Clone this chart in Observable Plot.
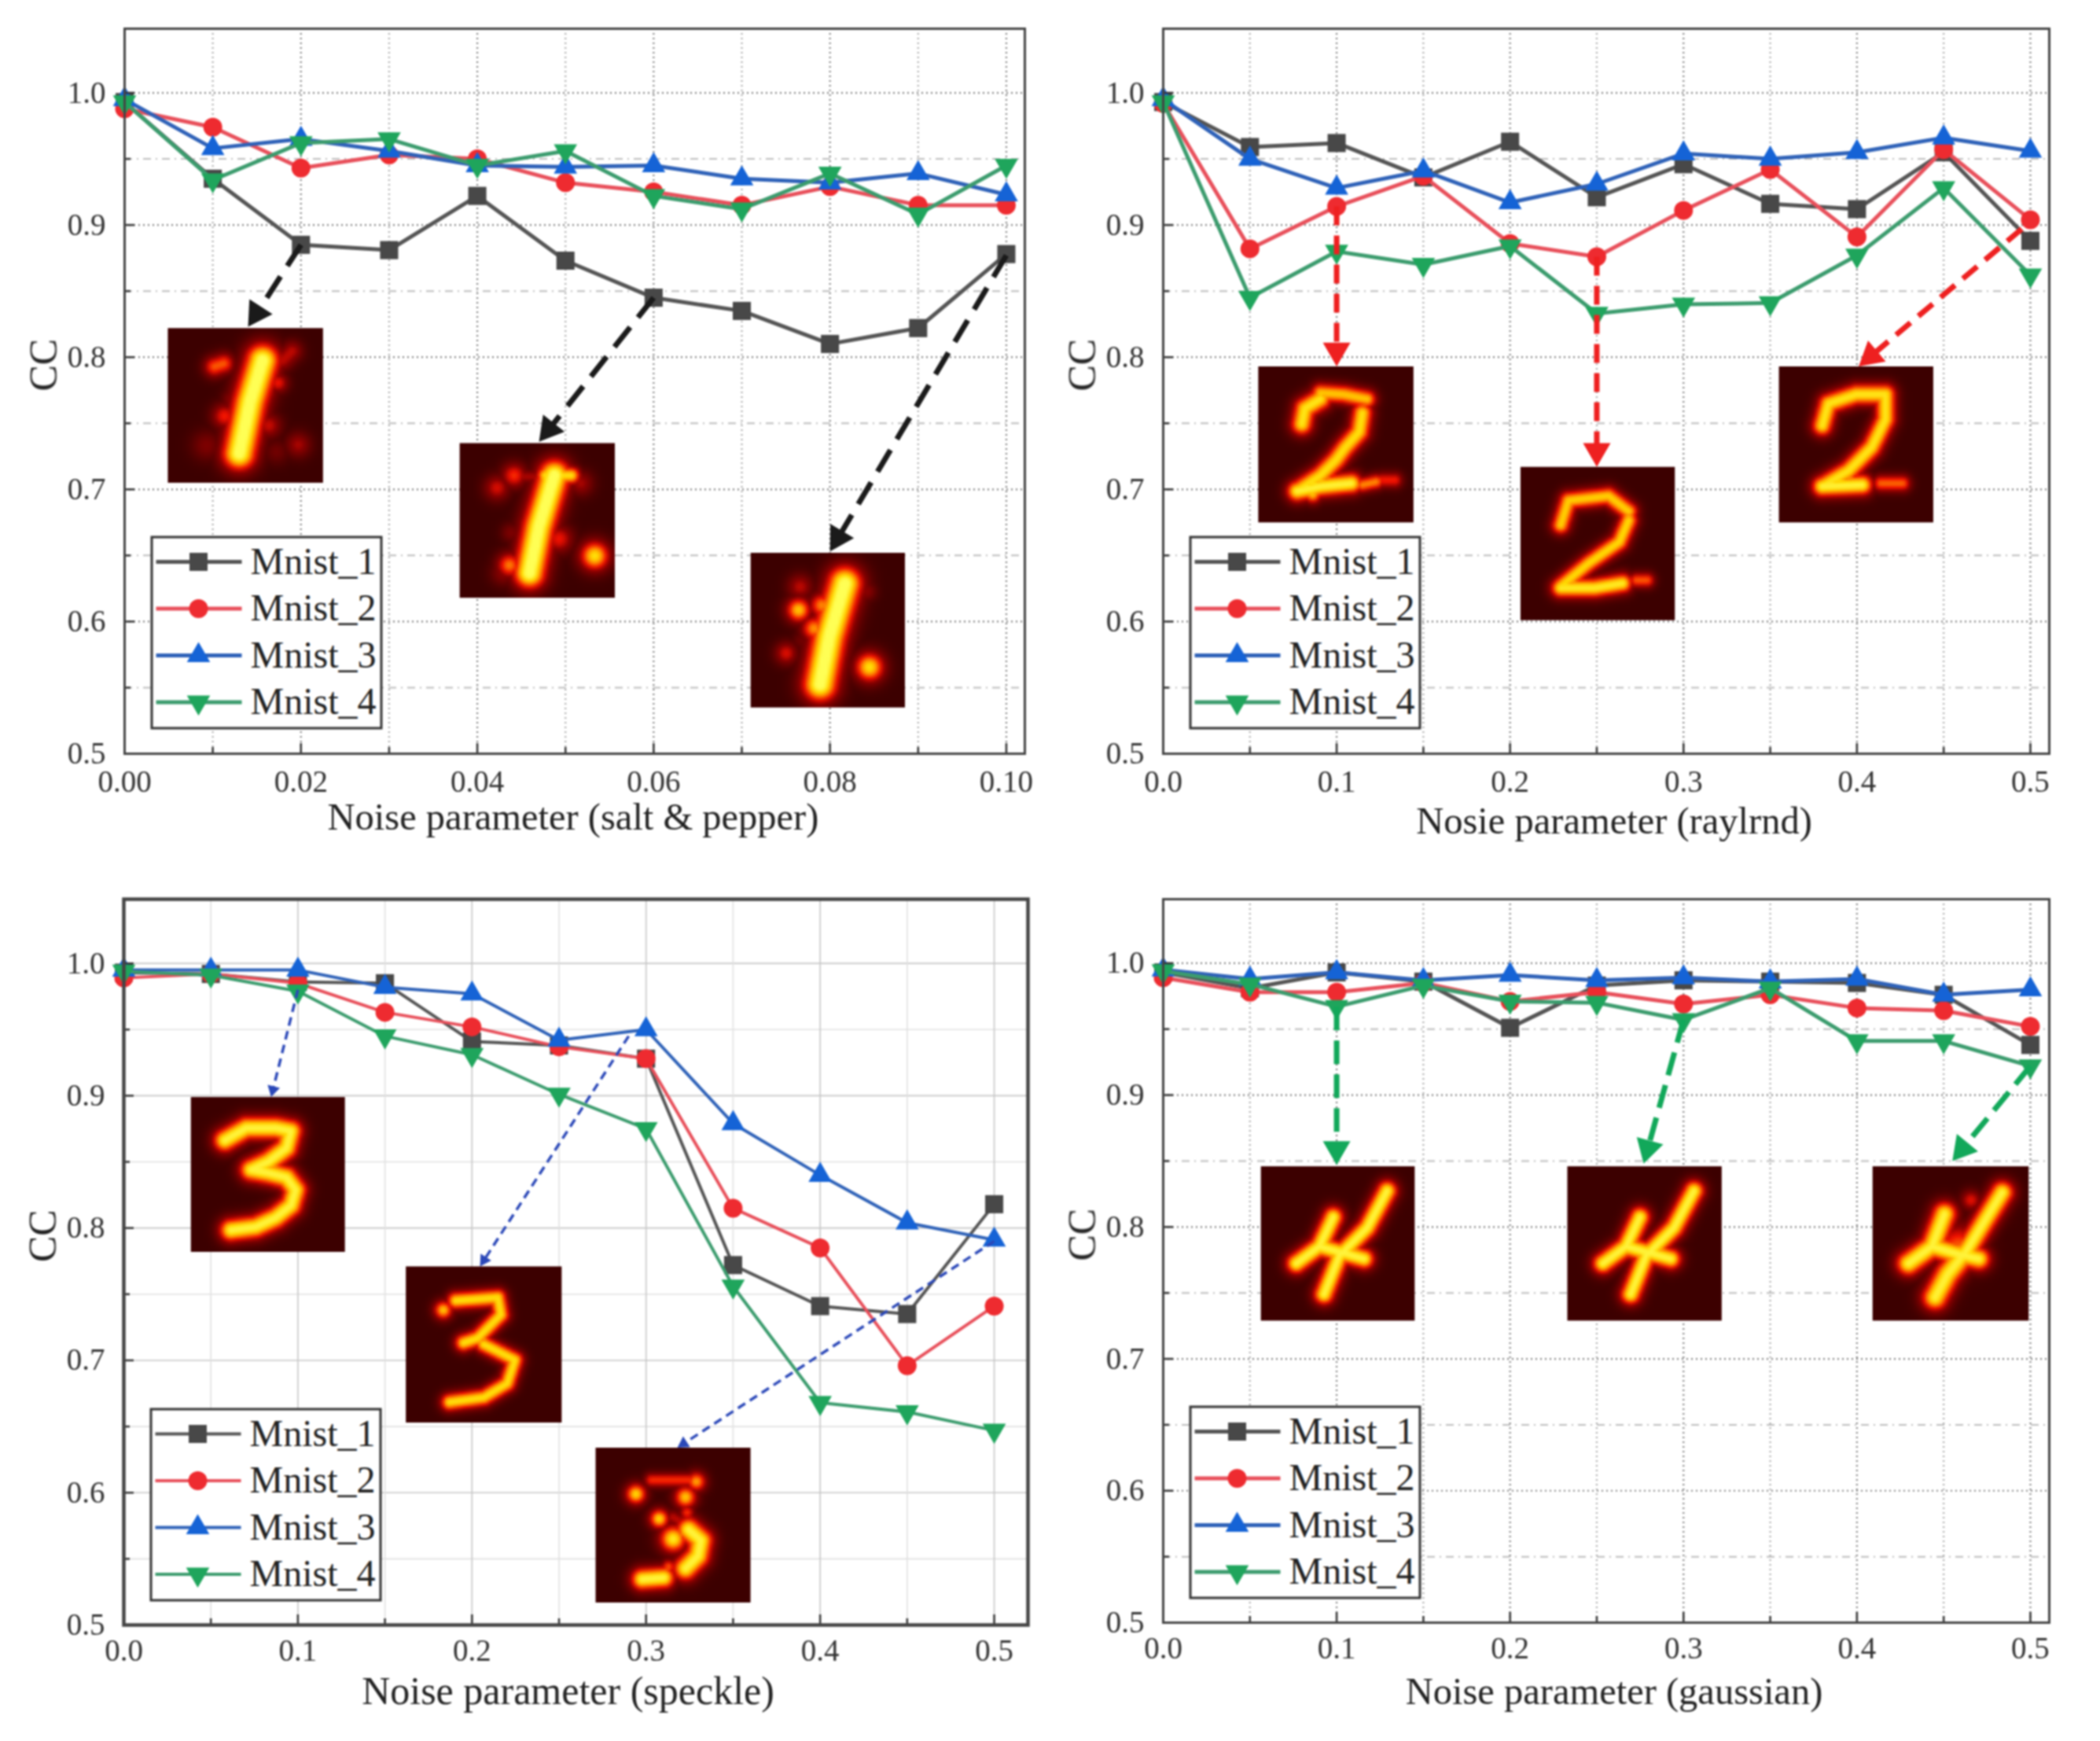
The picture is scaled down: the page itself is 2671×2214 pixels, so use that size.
<!DOCTYPE html>
<html><head><meta charset="utf-8">
<script src="https://cdn.jsdelivr.net/npm/d3@7"></script>
<script src="https://cdn.jsdelivr.net/npm/@observablehq/plot@0.6"></script>
<style>
html,body{margin:0;padding:0;background:#fff;width:2671px;height:2214px;overflow:hidden}
#page{position:relative;width:2671px;height:2214px}
#page>svg{position:absolute;filter:blur(0.9px);background:transparent!important;overflow:visible}
</style></head><body><div id="page"></div>
<script>
// ---------- values ----------
const seriesNames = ["Mnist_1","Mnist_2","Mnist_3","Mnist_4"];
const xSalt  = [0,.01,.02,.03,.04,.05,.06,.07,.08,.09,.10];
const xWide  = [0,.05,.1,.15,.2,.25,.3,.35,.4,.45,.5];
const ticksMajorSalt = [0,.02,.04,.06,.08,.10];
const ticksMajorWide = [0,.1,.2,.3,.4,.5];
const yMajor = [.5,.6,.7,.8,.9,1];
const yMinor = [.55,.65,.75,.85,.95];

const salt1 = [.993,.935,.885,.881,.922,.873,.845,.835,.810,.822,.878];
const salt2 = [.988,.974,.943,.953,.950,.932,.925,.915,.929,.915,.915];
const salt3 = [.995,.958,.965,.956,.945,.944,.945,.935,.932,.939,.923];
const salt4 = [.993,.934,.962,.965,.945,.956,.922,.912,.939,.908,.945];

const ray1 = [.993,.959,.962,.936,.963,.921,.946,.916,.912,.955,.888];
const ray2 = [.992,.882,.914,.937,.886,.876,.911,.942,.891,.957,.904];
const ray3 = [.995,.950,.928,.941,.917,.931,.954,.950,.955,.966,.956];
const ray4 = [.993,.845,.880,.870,.884,.833,.840,.841,.877,.928,.862];

const spk1 = [.993,.992,.986,.985,.941,.938,.928,.772,.741,.735,.818];
const spk2 = [.989,.992,.985,.963,.952,.937,.928,.815,.785,.696,.741];
const spk3 = [.995,.995,.995,.982,.977,.942,.950,.879,.840,.804,.791];
const spk4 = [.994,.991,.979,.945,.931,.901,.875,.756,.668,.661,.647];

const gau1 = [.993,.981,.993,.986,.951,.983,.987,.986,.985,.976,.938];
const gau2 = [.989,.978,.978,.985,.971,.978,.969,.976,.966,.964,.952];
const gau3 = [.995,.988,.993,.987,.991,.987,.989,.986,.988,.976,.980];
const gau4 = [.994,.984,.967,.983,.971,.970,.957,.981,.941,.941,.922];

// digit thumbnails: strokes [amp, halfwidth, x,y, x,y ...] and blobs [x,y,radius,amp], unit square
const dig1a = {s:[[1.05,.058,.61,.21,.53,.475,.46,.81],[.62,.035,.3,.25,.36,.23],[.4,.035,.74,.21,.8,.15]],
  b:[[.71,.355,.04,.5],[.365,.57,.05,.52],[.41,.46,.04,.3],[.65,.63,.05,.42],[.84,.755,.05,.36],[.25,.76,.06,.25],[.7,.8,.05,.2]]};
const dig1b = {s:[[1.05,.055,.61,.21,.51,.54,.45,.84],[.88,.03,.55,.21,.72,.21],[.36,.024,.33,.215,.55,.22]],
  b:[[.35,.21,.05,.55],[.24,.29,.05,.45],[.78,.26,.05,.36],[.64,.62,.055,.5],[.87,.73,.06,.88],[.32,.79,.05,.68],[.28,.84,.05,.3],[.33,.58,.04,.25]]};
const dig1c = {s:[[1.05,.06,.61,.2,.51,.54,.45,.85],[.45,.04,.55,.17,.68,.17]],
  b:[[.31,.37,.05,.82],[.46,.34,.05,.7],[.41,.49,.05,.72],[.32,.22,.05,.4],[.23,.65,.045,.46],[.77,.74,.06,.88],[.75,.25,.04,.3],[.33,.57,.04,.2],[.62,.72,.05,.2]]};
const dig2a = {s:[[.9,.038,.28,.37,.3,.27,.4,.21],[.82,.032,.4,.17,.55,.18,.7,.21],[.88,.036,.67,.3,.65,.42,.56,.52,.5,.6,.4,.7,.25,.8],[.95,.036,.25,.8,.4,.77,.6,.75],[.7,.026,.67,.76,.76,.74],[.52,.026,.8,.73,.88,.73],[.82,.03,.37,.71,.35,.82]],b:[]};
const dig2b = {s:[[.84,.032,.26,.38,.31,.22,.57,.19,.7,.29],[.86,.032,.7,.35,.64,.49,.44,.63,.26,.78],[.92,.034,.26,.79,.48,.79,.66,.76],[.62,.026,.75,.74,.82,.74]],b:[]};
const dig2c = {s:[[.9,.036,.28,.38,.32,.24,.5,.18,.69,.18,.69,.34,.6,.52,.45,.67,.28,.77],[.95,.036,.28,.77,.54,.76],[.64,.028,.66,.75,.8,.75]],b:[]};
const dig3a = {s:[[.96,.04,.22,.28,.36,.2,.55,.2,.65,.22,.62,.33,.5,.42,.39,.47,.5,.49,.62,.52,.68,.6,.65,.7,.55,.78,.42,.84,.26,.86]],b:[]};
const dig3b = {s:[[.88,.03,.32,.22,.59,.2,.61,.31,.46,.46,.37,.49],[.88,.03,.5,.5,.7,.6,.65,.75,.5,.84,.28,.87]],b:[[.24,.28,.038,.82]]};
const dig3c = {s:[[.55,.024,.36,.21,.6,.21],[.96,.042,.6,.53,.68,.6,.66,.7,.58,.78],[.96,.038,.3,.85,.44,.84],[.4,.024,.5,.45,.55,.48]],
  b:[[.65,.22,.04,.75],[.26,.3,.042,.86],[.58,.32,.045,.82],[.59,.42,.03,.56],[.41,.46,.04,.86],[.5,.59,.055,.92],[.47,.77,.03,.62]]};
const dig4a = {s:[[.96,.036,.82,.16,.69,.4,.51,.58,.41,.83],[.96,.036,.23,.63,.38,.52,.47,.33],[.96,.036,.38,.52,.67,.6]],b:[]};
const dig4b = dig4a;
const dig4c = {s:[[.96,.04,.83,.17,.72,.35,.6,.55],[.96,.042,.23,.63,.38,.52,.46,.31],[.96,.04,.38,.52,.55,.57,.68,.6],[.95,.045,.6,.55,.48,.7,.4,.85]],b:[[.55,.52,.09,.62],[.63,.22,.04,.48]]};

// thumbnail placement in chart units [x1,x2,y1,y2]
const insetsSalt = [[dig1a,.0049,.0225,.705,.822],[dig1b,.0380,.0556,.618,.735],[dig1c,.0710,.0885,.535,.652]];
const insetsRay  = [[dig2a,.0548,.1443,.675,.793],[dig2b,.206,.295,.601,.717],[dig2c,.355,.444,.675,.793]];
const insetsSpk  = [[dig3a,.0385,.127,.782,.899],[dig3b,.162,.2515,.653,.771],[dig3c,.271,.36,.517,.634]];
const insetsGau  = [[dig4a,.0563,.145,.729,.846],[dig4b,.233,.322,.729,.846],[dig4c,.409,.499,.729,.846]];

// callout arrows [from x, from y, tip x, tip y]
const arrowsSalt = [[.02,.885,.014,.823],[.06,.845,.047,.736],[.10,.877,.080,.653]];
const arrowsRay  = [[.1,.914,.1,.793],[.25,.876,.25,.717],[.495,.897,.401,.793]];
const arrowsSpk  = [[.1,.98,.0846,.899],[.29,.945,.2046,.771],[.5,.79,.318,.634]];
const arrowsGau  = [[.1,.967,.1,.847],[.3,.957,.277,.848],[.5,.922,.455,.85]];

// ---------- styling ----------
const lineColors = ["#555555","#e8505b","#2f62b8","#3c9c6e"];
const markColors = ["#484848","#ee2b30","#1563d6","#1fa55c"];
const symbols = ["square","circle","triangle","triangle"];
const rotates = [0,0,0,180];
const radii = [13,12,11,11];
const serif = "'Liberation Serif','Times New Roman',serif";
const hotDomain = [0,.3,.5,.7,.85,1];
const hotRange = ["#3c0000","#8a0000","#f01000","#ff8a00","#ffd800","#ffff55"];

const panels = [
 {L:158,R:1303,T:36,B:958,xMax:.1021,xs:xSalt,xMinor:xSalt.filter(v=>!ticksMajorSalt.includes(v)),xMajor:ticksMajorSalt,fmt:".2f",
  ser:[salt1,salt2,salt3,salt4],ins:insetsSalt,arr:arrowsSalt,arrColor:"#1a1a1a",arrW:7,dash:"32,16",headR:13,label:"Noise parameter (salt & pepper)",ldx:-2,ldy:96,lfs:48.5,lb:32,soft:false,lw:5,fw:3,tp:21},
 {L:1479,R:2606,T:36,B:958,xMax:.5109,xs:xWide,xMinor:xWide.filter(v=>!ticksMajorWide.includes(v)),xMajor:ticksMajorWide,fmt:".1f",
  ser:[ray1,ray2,ray3,ray4],ins:insetsRay,arr:arrowsRay,arrColor:"#ee2020",arrW:7,dash:"24,13",headR:13,label:"Nosie parameter (raylrnd)",ldx:10,ldy:101,lfs:48.5,lb:32,soft:false,lw:5,fw:3,tp:21},
 {L:157,R:1307,T:1143,B:2066,xMax:.5194,xs:xWide,xMinor:xWide.filter(v=>!ticksMajorWide.includes(v)),xMajor:ticksMajorWide,fmt:".1f",
  ser:[spk1,spk2,spk3,spk4],ins:insetsSpk,arr:arrowsSpk,arrColor:"#2b48b8",arrW:3.5,dash:"11,7",headR:6,label:"Noise parameter (speckle)",ldx:-10,ldy:100,lfs:50,lb:31,soft:true,lw:4,fw:4.5,tp:18},
 {L:1479,R:2606,T:1143,B:2063,xMax:.5109,xs:xWide,xMinor:xWide.filter(v=>!ticksMajorWide.includes(v)),xMajor:ticksMajorWide,fmt:".1f",
  ser:[gau1,gau2,gau3,gau4],ins:insetsGau,arr:arrowsGau,arrColor:"#12a85a",arrW:7,dash:"30,13",headR:13,label:"Noise parameter (gaussian)",ldx:10,ldy:103,lfs:48.5,lb:31,soft:false,lw:5,fw:3,tp:18}
];

// intensity of a thumbnail at a unit-square position
function segDist(px,py,ax,ay,bx,by){
  const dx=bx-ax,dy=by-ay,l=dx*dx+dy*dy;
  const t=l?Math.max(0,Math.min(1,((px-ax)*dx+(py-ay)*dy)/l)):0;
  return Math.hypot(px-ax-t*dx,py-ay-t*dy);
}
function intensity(d,u,v){
  let m=0;
  for(const s of d.s){
    const amp=s[0], r=s[1]*1.4;
    for(let i=2;i+3<s.length;i+=2){
      const q=segDist(u,v,s[i],s[i+1],s[i+2],s[i+3]);
      m=Math.max(m,amp*Math.exp(-(q*q)/(2*r*r)));
    }
  }
  for(const [x,y,r0,a] of d.b){
    const r=r0*1.15;
    const q=Math.hypot(u-x,v-y);
    m=Math.max(m,a*Math.exp(-(q*q)/(2*r*r)));
  }
  return Math.min(1,m);
}

function build(p){
  const yDomain=[.5,1.0485];
  const mL=158,mT=36,mR=40,mB=150;
  const W=p.R-p.L+mL+mR, H=p.B-p.T+mT+mB;
  const kx=(p.R-p.L)/p.xMax, ky=(p.B-p.T)/(yDomain[1]-yDomain[0]);
  const fx=px=>(px)/kx, fy=py=>.5+(p.B-py)/ky;   // frame px to chart units
  const gridMajor=p.soft?{stroke:"#c6c6c6",strokeWidth:1.6}:{stroke:"#808080",strokeWidth:2.2,strokeDasharray:"2,4"};
  const gridMinor=p.soft?{stroke:"#e0e0e0",strokeWidth:1.6}:{stroke:"#bdbdbd",strokeWidth:2,strokeDasharray:"10,6,2,6"};
  const marks=[];
  marks.push(Plot.ruleY(yMinor,{...gridMinor}));
  marks.push(Plot.ruleY(yMajor.slice(1),{...gridMajor}));
  marks.push(Plot.ruleX(p.xMinor,{...gridMajor,stroke:p.soft?"#e0e0e0":"#aaaaaa"}));
  marks.push(Plot.ruleX(p.xMajor.slice(1),{...gridMajor}));
  // data series
  p.ser.forEach((vals,k)=>{
    const rows=p.xs.map((x,i)=>({x,y:vals[i]}));
    marks.push(Plot.line(rows,{x:"x",y:"y",stroke:lineColors[k],strokeWidth:p.lw,strokeLinejoin:"round"}));
    marks.push(Plot.dot(rows,{x:"x",y:"y",symbol:symbols[k],rotate:rotates[k],r:radii[k],fill:markColors[k],stroke:"none"}));
  });
  // thumbnails
  for(const [d,x1,x2,y1,y2] of p.ins){
    marks.push(Plot.raster({x1,x2,y1,y2,width:56,height:56,
      fill:(x,y)=>intensity(d,(x-x1)/(x2-x1),(y2-y)/(y2-y1))}));
  }
  // callout arrows
  for(const [x0,y0,tx,ty] of p.arr){
    const ax=(tx-x0)*kx, ay=-(ty-y0)*ky, len=Math.hypot(ax,ay);
    const off=1.555*p.headR;
    const cx=tx-ax/len*off/kx, cy=ty+ay/len*off/ky;
    marks.push(Plot.link([0],{x1:()=>x0,y1:()=>y0,x2:()=>cx,y2:()=>cy,stroke:p.arrColor,strokeWidth:p.arrW,strokeDasharray:p.dash}));
    marks.push(Plot.dot([0],{x:()=>cx,y:()=>cy,symbol:"triangle",r:p.headR,fill:p.arrColor,stroke:"none",rotate:Math.atan2(ax,-ay)*180/Math.PI}));
  }
  // ticks, inward
  const tk=(n)=>n/ky, tkx=(n)=>n/kx;
  marks.push(Plot.ruleX(p.xMajor,{y1:.5,y2:.5+tk(13),stroke:"#333",strokeWidth:2.5}));
  marks.push(Plot.ruleX(p.xMinor,{y1:.5,y2:.5+tk(8),stroke:"#333",strokeWidth:2.5}));
  marks.push(Plot.ruleY(yMajor,{x1:0,x2:tkx(13),stroke:"#333",strokeWidth:2.5}));
  marks.push(Plot.ruleY(yMinor,{x1:0,x2:tkx(8),stroke:"#333",strokeWidth:2.5}));
  // legend box
  const lb=p.B-p.lb, lt=lb-243, ll=35, lr=327;
  marks.push(Plot.rect([0],{x1:()=>fx(ll),x2:()=>fx(lr),y1:()=>fy(lb),y2:()=>fy(lt),fill:"white",stroke:"#333",strokeWidth:3}));
  seriesNames.forEach((name,k)=>{
    const ry=fy(lt+31+59.5*k);
    marks.push(Plot.link([0],{x1:()=>fx(40),x2:()=>fx(149),y1:()=>ry,y2:()=>ry,stroke:lineColors[k],strokeWidth:p.lw}));
    marks.push(Plot.dot([0],{x:()=>fx(94),y:()=>ry,symbol:symbols[k],rotate:rotates[k],r:radii[k],fill:markColors[k],stroke:"none"}));
    marks.push(Plot.text([name],{text:d=>d,x:()=>fx(160),y:()=>ry,textAnchor:"start",fontSize:48,fontFamily:serif,fill:"#222"}));
  });
  marks.push(Plot.frame({stroke:"#444",strokeWidth:p.fw}));
  // axes
  marks.push(Plot.axisX({ticks:p.xMajor,tickFormat:d3.format(p.fmt),tickSize:0,tickPadding:p.tp,label:null,fontSize:39,fontFamily:serif,fill:"#333"}));
  marks.push(Plot.axisY({ticks:yMajor,tickFormat:d3.format(".1f"),tickSize:0,tickPadding:24,label:null,fontSize:39,fontFamily:serif,fill:"#333"}));
  marks.push(Plot.text([p.label],{text:d=>d,frameAnchor:"bottom",dx:p.ldx,dy:p.ldy,fontSize:p.lfs,fontFamily:serif,fill:"#222"}));
  marks.push(Plot.text(["CC"],{text:d=>d,frameAnchor:"left",rotate:-90,dx:-103,fontSize:50,fontFamily:serif,fill:"#222"}));
  const svg=Plot.plot({width:W,height:H,marginLeft:mL,marginRight:mR,marginTop:mT,marginBottom:mB,
    x:{domain:[0,p.xMax],axis:null},y:{domain:yDomain,axis:null},
    color:{type:"linear",domain:hotDomain,range:hotRange},
    style:{background:"transparent",overflow:"visible"},
    marks});
  svg.style.left=(p.L-mL)+"px";
  svg.style.top=(p.T-mT)+"px";
  document.getElementById("page").appendChild(svg);
}
panels.forEach(build);
</script></body></html>
